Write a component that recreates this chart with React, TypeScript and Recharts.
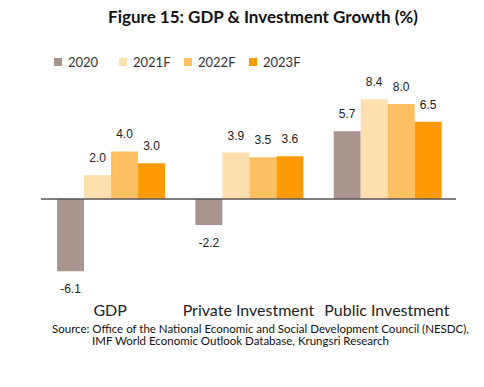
import React from "react";
import { Bar, BarChart, LabelList, ReferenceLine, XAxis, YAxis } from "recharts";

const categories = ["GDP", "Private Investment", "Public Investment"];
const growth2020 = [-6.1, -2.2, 5.7];
const growth2021F = [2.0, 3.9, 8.4];
const growth2022F = [4.0, 3.5, 8.0];
const growth2023F = [3.0, 3.6, 6.5];

const series = [
  { key: "y2020", name: "2020", values: growth2020, color: "#a8958f" },
  { key: "y2021F", name: "2021F", values: growth2021F, color: "#fee0b0" },
  { key: "y2022F", name: "2022F", values: growth2022F, color: "#fec063" },
  { key: "y2023F", name: "2023F", values: growth2023F, color: "#fd9a05" },
];

const data = categories.map((name, i) => {
  const row: { [key: string]: string | number } = { name };
  series.forEach((s) => {
    row[s.key] = s.values[i];
  });
  return row;
});

const font = "Lato, 'Open Sans', sans-serif";

const ValueLabel = (props: any) => {
  const { x, y, width, height, value } = props;
  const cx = x + width / 2;
  const top = Math.min(y, y + height);
  const bottom = Math.max(y, y + height);
  const cy = value >= 0 ? top - 17 : bottom + 18;
  return (
    <text
      x={cx}
      y={cy}
      textAnchor="middle"
      dominantBaseline="central"
      fontFamily="'Liberation Sans', Arial, sans-serif"
      fontSize={12}
      fill="#222">
      {Number(value).toFixed(1)}
    </text>
  );
};

const App = () => {
  return (
    <div
      style={{
        position: "absolute",
        left: 0,
        top: 0,
        width: 484,
        height: 387,
        background: "#fff",
        fontFamily: font,
      }}>
      <div
        style={{
          position: "absolute",
          top: 6,
          left: 0,
          width: 526,
          textAlign: "center",
          fontWeight: 700,
          fontSize: 17,
          color: "#111",
        }}>
        Figure 15: GDP &amp; Investment Growth (%)
      </div>
      {series.map((s, i) => (
        <div
          key={s.key}
          style={{
            position: "absolute",
            top: 54,
            left: 54 + i * 65,
            display: "flex",
            alignItems: "center",
            fontSize: 13,
            color: "#333",
          }}>
          <span
            style={{
              display: "inline-block",
              width: 8,
              height: 8,
              background: s.color,
              marginRight: 6,
            }}
          />
          {s.name}
        </div>
      ))}
      <BarChart
        width={484}
        height={387}
        data={data}
        barCategoryGap="11.6%"
        barGap={0}
        margin={{ top: 92, right: 28, left: 41, bottom: 75 }}>
        <YAxis hide domain={[-7, 9]} />
        <XAxis
          dataKey="name"
          axisLine={false}
          tickLine={false}
          tickSize={0}
          tickMargin={23}
          height={30}
          interval={0}
          tick={{ fill: "#222", fontSize: 16, fontFamily: font }}
        />
        <ReferenceLine y={0} stroke="#555" strokeWidth={1.5} />
        {series.map((s) => (
          <Bar
            key={s.key}
            dataKey={s.key}
            name={s.name}
            fill={s.color}
            isAnimationActive={false}>
            <LabelList dataKey={s.key} content={ValueLabel} />
          </Bar>
        ))}
      </BarChart>
      <div
        style={{
          position: "absolute",
          top: 323,
          left: 52,
          fontSize: 11.5,
          color: "#111",
          lineHeight: "12px",
          whiteSpace: "nowrap",
        }}>
        Source: Office of the National Economic and Social Development Council (NESDC),
        <br />
        <span style={{ paddingLeft: 40 }}>
          IMF World Economic Outlook Database, Krungsri Research
        </span>
      </div>
    </div>
  );
};

export default App;
